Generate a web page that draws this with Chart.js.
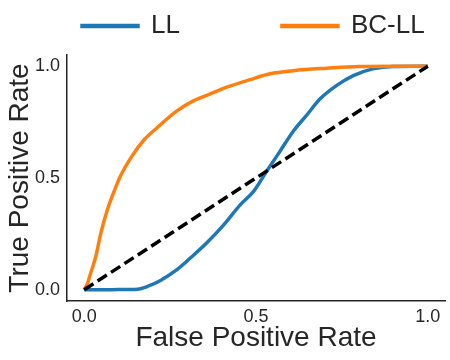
<!DOCTYPE html>
<html><head><meta charset="utf-8">
<script src="https://cdn.jsdelivr.net/npm/chart.js@4"></script>
<style>html,body{margin:0;padding:0;background:#fff}#wrap{width:450px;height:360px}</style>
</head><body><div id="wrap"><canvas id="c"></canvas></div>
<script>
const seriesNames = ['LL', 'BC-LL'];
const llFpr = [0, 0.05, 0.10, 0.155, 0.184, 0.222, 0.27, 0.309, 0.357, 0.406, 0.454, 0.493, 0.531, 0.57, 0.609, 0.647, 0.686, 0.734, 0.783, 0.84, 0.899, 1];
const llTpr = [0, 0, 0.001, 0.003, 0.015, 0.042, 0.09, 0.142, 0.21, 0.29, 0.38, 0.44, 0.53, 0.62, 0.71, 0.78, 0.853, 0.913, 0.958, 0.988, 0.999, 1];
const bcFpr = [0, 0.01, 0.019, 0.034, 0.048, 0.068, 0.087, 0.106, 0.14, 0.174, 0.213, 0.27, 0.319, 0.367, 0.415, 0.483, 0.541, 0.609, 0.705, 0.80, 0.90, 1];
const bcTpr = [0, 0.03, 0.075, 0.15, 0.25, 0.36, 0.44, 0.51, 0.60, 0.67, 0.726, 0.80, 0.846, 0.876, 0.906, 0.94, 0.966, 0.98, 0.991, 0.999, 1, 1];
const chanceFpr = [0, 1];
const chanceTpr = [0, 1];
const tickValues = [0, 0.5, 1.0];
const xTitle = 'False Positive Rate';
const yTitle = 'True Positive Rate';

const toPoints = (xs, ys) => xs.map((x, i) => ({x: x, y: ys[i]}));
const FONT = "'Liberation Sans', Arial, sans-serif";
const TXT = '#262626';
const LEG_PAD = 102;

const legendPlacer = {
  id: 'legendPlacer',
  beforeInit(chart) {
    const lg = chart.legend;
    const f = lg.fit;
    lg.fit = function () { f.call(this); this.height = 55; };
  },
  afterLayout(chart) {
    const lg = chart.legend;
    lg.left = 82 - LEG_PAD;
    lg.right = 2000;
    lg.top = 26 - LEG_PAD - 13;
  }
};

const axisCommon = (title, pad) => ({
  type: 'linear',
  min: -0.05, max: 1.05,
  grid: {display: false, drawTicks: false},
  border: {display: true, color: '#262626', width: 1.5},
  afterBuildTicks: s => { s.ticks = tickValues.map(v => ({value: v})); },
  ticks: {
    color: TXT, font: {family: FONT, size: 18},
    callback: v => Number(v).toFixed(1), maxRotation: 0, padding: pad
  },
  title: {display: true, text: title, color: TXT, font: {family: FONT, size: 28, lineHeight: 1}}
});

const xScale = axisCommon(xTitle, 5);
xScale.title.padding = {top: 0, bottom: 8};
xScale.afterFit = s => { s.height = 59; };
const yScale = axisCommon(yTitle, 7);
yScale.title.padding = {top: 6, bottom: 0};
yScale.afterFit = s => { s.width = 67; };

new Chart(document.getElementById('c'), {
  type: 'scatter',
  data: {
    datasets: [
      {label: seriesNames[0], data: toPoints(llFpr, llTpr), showLine: true, borderColor: '#1f77b4', backgroundColor: '#1f77b4', borderWidth: 3.5, pointRadius: 0, cubicInterpolationMode: 'monotone', order: 3},
      {label: seriesNames[1], data: toPoints(bcFpr, bcTpr), showLine: true, borderColor: '#ff7f0e', backgroundColor: '#ff7f0e', borderWidth: 3.5, pointRadius: 0, cubicInterpolationMode: 'monotone', order: 2},
      {label: 'chance', data: toPoints(chanceFpr, chanceTpr), showLine: true, borderColor: '#000', backgroundColor: '#000', borderWidth: 3.5, borderDash: [11, 5], pointRadius: 0, order: 1}
    ]
  },
  options: {
    responsive: true, maintainAspectRatio: false, animation: false,
    layout: {padding: {top: 0, right: 5, bottom: 0, left: 0}},
    plugins: {
      tooltip: {enabled: false},
      legend: {
        display: true, position: 'top', align: 'start',
        labels: {
          boxWidth: 56, boxHeight: 1, padding: LEG_PAD, color: TXT,
          font: {family: FONT, size: 26, lineHeight: 1},
          filter: item => item.datasetIndex < 2,
          sort: (a, b) => a.datasetIndex - b.datasetIndex
        }
      }
    },
    scales: {x: xScale, y: yScale}
  },
  plugins: [legendPlacer]
});
</script></body></html>
